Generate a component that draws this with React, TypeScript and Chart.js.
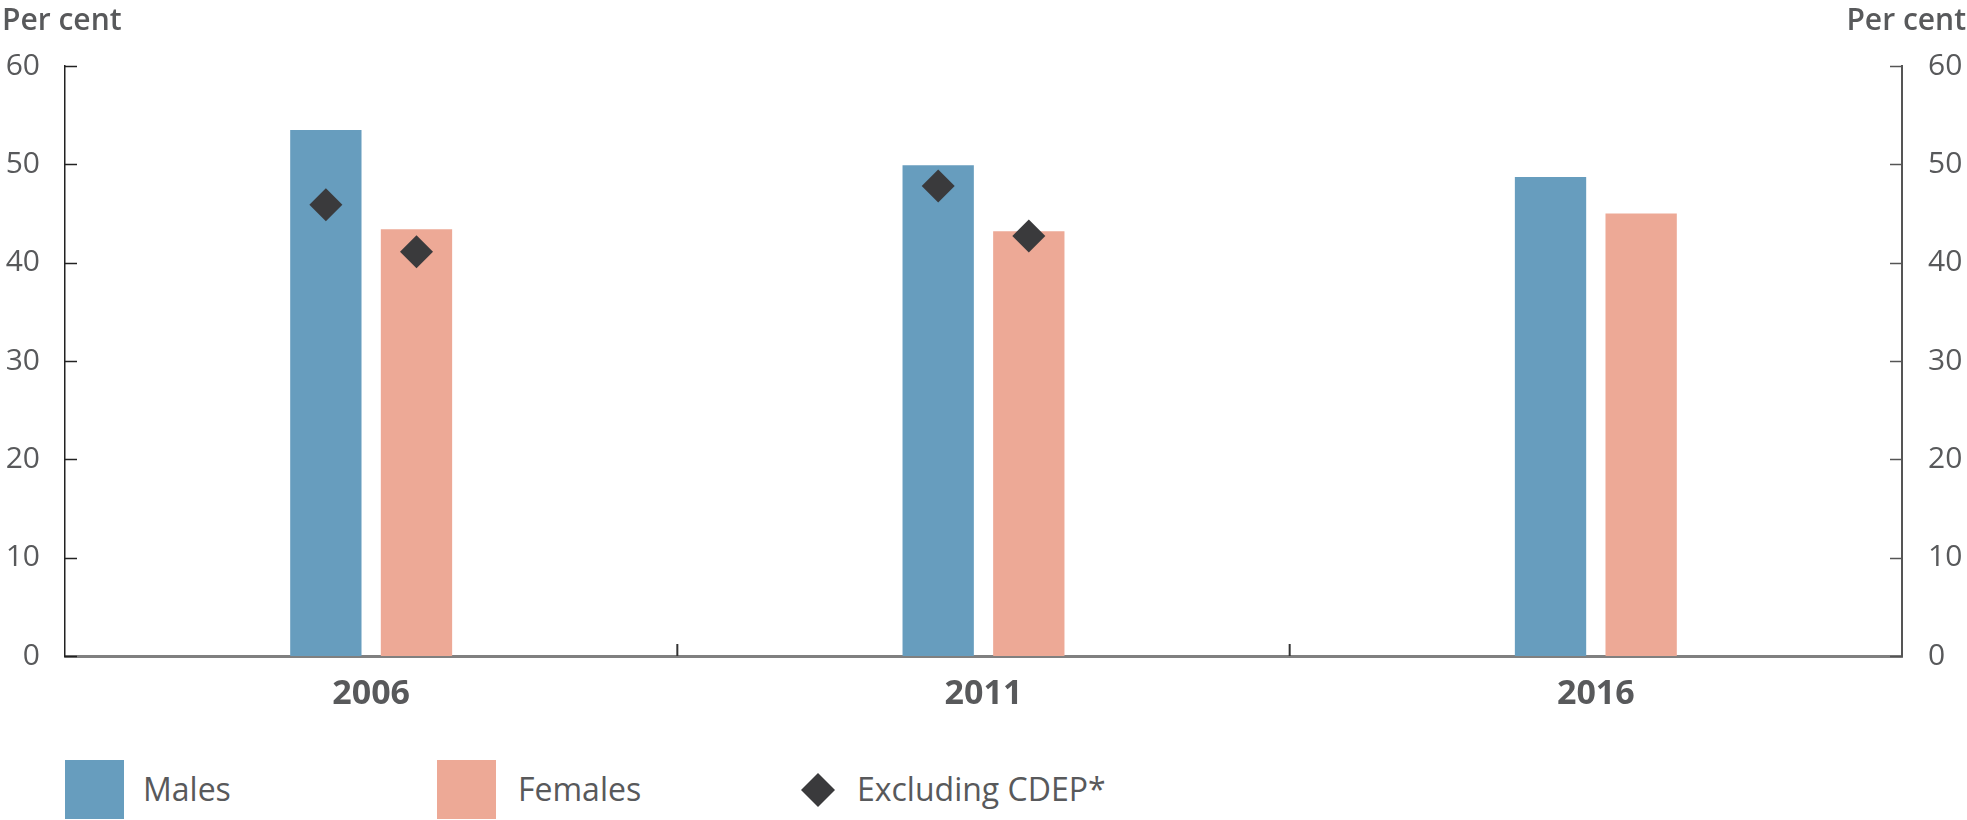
import React, { useEffect, useRef } from 'react';
import { Chart, registerables } from 'chart.js';

Chart.register(...registerables);

const categories = ['2006', '2011', '2016'];
const males = [53.5, 49.9, 48.7];
const females = [43.4, 43.2, 45.0];
const exclMales = [45.9, 47.8, null];
const exclFemales = [41.1, 42.7, null];
const yMin = 0;
const yMax = 60;
const yStep = 10;
const axisTitle = 'Per cent';
const legendLabels = ['Males', 'Females', 'Excluding CDEP*'];

const BLUE = '#679dbe';
const PINK = '#eda996';
const DIAMOND = '#3a3a3c';
const TEXT = '#58595b';
const FONT = "'Open Sans', sans-serif";

const W = 1967;
const H = 730;

const alignPlugin = {
  id: 'alignDiamonds',
  afterDatasetsUpdate(chart: any) {
    chart.data.datasets.forEach((ds: any, i: number) => {
      if (ds.alignTo === undefined) return;
      const meta = chart.getDatasetMeta(i);
      const barMeta = chart.getDatasetMeta(ds.alignTo);
      meta.data.forEach((pt: any, k: number) => {
        const b = barMeta.data[k];
        if (b) pt.x = b.x;
      });
    });
  },
};

const decorPlugin = {
  id: 'decor',
  afterDraw(chart: any) {
    const ctx = chart.ctx;
    const { x, y, y2 } = chart.scales;
    const area = chart.chartArea;
    ctx.save();
    ctx.strokeStyle = '#222';
    ctx.lineWidth = 1.5;
    y.ticks.forEach((t: any) => {
      const py = Math.round(y.getPixelForValue(t.value)) + 0.5;
      ctx.beginPath();
      ctx.moveTo(area.left, py);
      ctx.lineTo(area.left + 12, py);
      ctx.stroke();
    });
    ctx.strokeStyle = '#555';
    y2.ticks.forEach((t: any) => {
      const py = Math.round(y2.getPixelForValue(t.value)) + 0.5;
      ctx.beginPath();
      ctx.moveTo(area.right, py);
      ctx.lineTo(area.right - 12, py);
      ctx.stroke();
    });
    ctx.strokeStyle = '#333';
    ctx.lineWidth = 2;
    for (let i = 0; i < categories.length - 1; i++) {
      const px = (x.getPixelForValue(i) + x.getPixelForValue(i + 1)) / 2;
      ctx.beginPath();
      ctx.moveTo(px, area.bottom);
      ctx.lineTo(px, area.bottom - 12);
      ctx.stroke();
    }
    ctx.fillStyle = TEXT;
    ctx.font = `600 30px ${FONT}`;
    ctx.textBaseline = 'alphabetic';
    ctx.textAlign = 'left';
    ctx.fillText(axisTitle, 2, 30);
    ctx.textAlign = 'right';
    ctx.fillText(axisTitle, W - 1, 30);
    ctx.restore();
  },
};

export default function App() {
  const ref = useRef<HTMLCanvasElement>(null);

  useEffect(() => {
    if (!ref.current) return;
    const tickFont = { family: FONT, size: 30 };
    const chart = new Chart(ref.current, {
      type: 'bar',
      data: {
        labels: categories,
        datasets: [
          {
            type: 'bar',
            label: legendLabels[0],
            data: males,
            backgroundColor: BLUE,
            yAxisID: 'y',
            order: 2,
            categoryPercentage: 0.296,
            barPercentage: 0.787,
          } as any,
          {
            type: 'bar',
            label: legendLabels[1],
            data: females,
            backgroundColor: PINK,
            yAxisID: 'y',
            order: 2,
            categoryPercentage: 0.296,
            barPercentage: 0.787,
          } as any,
          {
            type: 'line',
            label: legendLabels[2],
            data: exclMales,
            alignTo: 0,
            showLine: false,
            pointStyle: 'rectRot',
            pointRadius: 16.5,
            pointBackgroundColor: DIAMOND,
            pointBorderColor: DIAMOND,
            pointBorderWidth: 0,
            yAxisID: 'y',
            order: 1,
          } as any,
          {
            type: 'line',
            label: legendLabels[2],
            data: exclFemales,
            alignTo: 1,
            showLine: false,
            pointStyle: 'rectRot',
            pointRadius: 16.5,
            pointBackgroundColor: DIAMOND,
            pointBorderColor: DIAMOND,
            pointBorderWidth: 0,
            yAxisID: 'y',
            order: 1,
          } as any,
        ],
      },
      options: {
        responsive: false,
        animation: false,
        devicePixelRatio: 1,
        layout: { padding: { top: 66, left: 0, right: 0, bottom: 0 } },
        plugins: {
          legend: { display: false },
          tooltip: { enabled: false },
        },
        scales: {
          x: {
            type: 'category',
            z: 1,
            grid: { display: false, drawTicks: false },
            border: { display: true, color: '#808080', width: 3 },
            ticks: {
              font: { family: FONT, size: 34, weight: 'bold' },
              color: TEXT,
              padding: 18,
            },
            afterFit(scale: any) {
              scale.height = H - 656;
            },
          },
          y: {
            position: 'left',
            min: yMin,
            max: yMax,
            ticks: { stepSize: yStep, font: tickFont, color: TEXT, padding: 25 },
            grid: { display: false, drawTicks: false },
            border: { display: true, color: '#222', width: 1.5 },
            afterFit(scale: any) {
              scale.width = 65;
            },
          },
          y2: {
            position: 'right',
            min: yMin,
            max: yMax,
            ticks: { stepSize: yStep, font: tickFont, color: TEXT, padding: 26 },
            grid: { display: false, drawTicks: false },
            border: { display: true, color: '#555', width: 2 },
            afterFit(scale: any) {
              scale.width = 65;
            },
          },
        },
      } as any,
      plugins: [alignPlugin, decorPlugin],
    });
    return () => chart.destroy();
  }, []);

  const legendText: React.CSSProperties = {
    position: 'absolute',
    top: 759,
    height: 59,
    lineHeight: '59px',
    fontFamily: FONT,
    fontSize: 32,
    color: TEXT,
    whiteSpace: 'nowrap',
  };

  return (
    <div style={{ position: 'absolute', left: 0, top: 0, width: W, height: 820, background: '#fff', overflow: 'hidden' }}>
      <canvas ref={ref} width={W} height={H} style={{ display: 'block', width: W, height: H }} />
      <div style={{ position: 'absolute', left: 65, top: 760, width: 59, height: 59, background: BLUE }} />
      <div style={{ ...legendText, left: 143 }}>{legendLabels[0]}</div>
      <div style={{ position: 'absolute', left: 437, top: 760, width: 59, height: 59, background: PINK }} />
      <div style={{ ...legendText, left: 518 }}>{legendLabels[1]}</div>
      <svg style={{ position: 'absolute', left: 801, top: 773 }} width={34} height={34} viewBox="0 0 34 34">
        <polygon points="17,0 34,17 17,34 0,17" fill={DIAMOND} />
      </svg>
      <div style={{ ...legendText, left: 857 }}>{legendLabels[2]}</div>
    </div>
  );
}
